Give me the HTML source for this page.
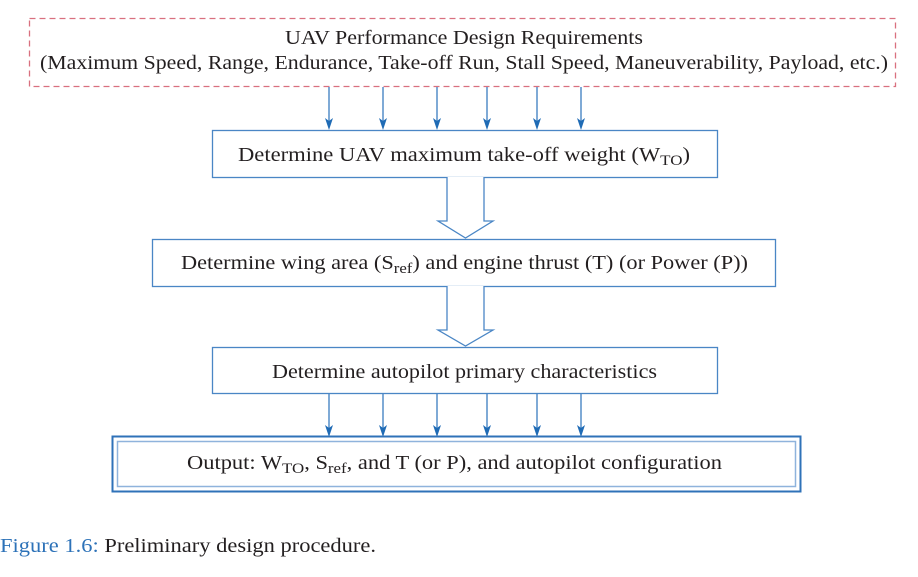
<!DOCTYPE html>
<html><head><meta charset="utf-8"><style>
html,body{margin:0;padding:0;background:#fff;}
svg{display:block;font-family:"Liberation Serif",serif;}
</style></head><body>
<svg width="918" height="577" viewBox="0 0 918 577" xmlns="http://www.w3.org/2000/svg">
<rect x="29.5" y="18.5" width="866" height="68" fill="none" stroke="#d9707f" stroke-width="1.3" stroke-dasharray="6,4"/>
<text x="285" y="44" font-size="20" fill="#231f20" textLength="358" lengthAdjust="spacingAndGlyphs">UAV Performance Design Requirements</text>
<text x="40" y="69" font-size="20" fill="#231f20" textLength="848" lengthAdjust="spacingAndGlyphs">(Maximum Speed, Range, Endurance, Take-off Run, Stall Speed, Maneuverability, Payload, etc.)</text>
<g stroke="#3a7cc0" stroke-width="1.3">
<line x1="329" y1="87" x2="329" y2="122"/><line x1="383" y1="87" x2="383" y2="122"/><line x1="437" y1="87" x2="437" y2="122"/>
<line x1="487" y1="87" x2="487" y2="122"/><line x1="537" y1="87" x2="537" y2="122"/><line x1="581" y1="87" x2="581" y2="122"/>
<line x1="329" y1="394" x2="329" y2="429"/><line x1="383" y1="394" x2="383" y2="429"/><line x1="437" y1="394" x2="437" y2="429"/>
<line x1="487" y1="394" x2="487" y2="429"/><line x1="537" y1="394" x2="537" y2="429"/><line x1="581" y1="394" x2="581" y2="429"/>
</g>
<g fill="#1f6bb5">
<path d="M325,118 L329,130 L333,118 L329,121 Z"/><path d="M379,118 L383,130 L387,118 L383,121 Z"/><path d="M433,118 L437,130 L441,118 L437,121 Z"/>
<path d="M483,118 L487,130 L491,118 L487,121 Z"/><path d="M533,118 L537,130 L541,118 L537,121 Z"/><path d="M577,118 L581,130 L585,118 L581,121 Z"/>
<path d="M325,425 L329,437 L333,425 L329,428 Z"/><path d="M379,425 L383,437 L387,425 L383,428 Z"/><path d="M433,425 L437,437 L441,425 L437,428 Z"/>
<path d="M483,425 L487,437 L491,425 L487,428 Z"/><path d="M533,425 L537,437 L541,425 L537,428 Z"/><path d="M577,425 L581,437 L585,425 L581,428 Z"/>
</g>
<rect x="212.5" y="130.5" width="505" height="47" fill="#fff" stroke="#4a86c5" stroke-width="1.3"/>
<text x="238" y="161" font-size="20" fill="#231f20" textLength="452" lengthAdjust="spacingAndGlyphs">Determine UAV maximum take-off weight (W<tspan font-size="15" dy="4">TO</tspan><tspan dy="-4">)</tspan></text>
<path d="M447,177 L447,221 L438,221 L465.5,238 L493,221 L484,221 L484,177" fill="#fff" stroke="#4a86c5" stroke-width="1.3"/>
<rect x="152.5" y="239.5" width="623" height="47" fill="#fff" stroke="#4a86c5" stroke-width="1.3"/>
<text x="181" y="269" font-size="20" fill="#231f20" textLength="567" lengthAdjust="spacingAndGlyphs">Determine wing area (S<tspan font-size="15" dy="4">ref</tspan><tspan dy="-4">) and engine thrust (T) (or Power (P))</tspan></text>
<path d="M447,286 L447,330 L438,330 L465.5,346 L493,330 L484,330 L484,286" fill="#fff" stroke="#4a86c5" stroke-width="1.3"/>
<rect x="212.5" y="347.5" width="505" height="46" fill="#fff" stroke="#4a86c5" stroke-width="1.3"/>
<text x="272" y="378" font-size="20" fill="#231f20" textLength="385" lengthAdjust="spacingAndGlyphs">Determine autopilot primary characteristics</text>
<rect x="112.5" y="436.5" width="688" height="55" fill="#fff" stroke="#2f72b8" stroke-width="2"/>
<rect x="117.5" y="441.5" width="678" height="45" fill="none" stroke="#8fb3dc" stroke-width="1.5"/>
<text x="187" y="469" font-size="20" fill="#231f20" textLength="535" lengthAdjust="spacingAndGlyphs">Output: W<tspan font-size="15" dy="4">TO</tspan><tspan dy="-4">, S</tspan><tspan font-size="15" dy="4">ref</tspan><tspan dy="-4">, and T (or P), and autopilot configuration</tspan></text>
<text x="0" y="552" font-size="20" fill="#231f20" textLength="376" lengthAdjust="spacingAndGlyphs"><tspan fill="#2d72b8">Figure 1.6:</tspan> Preliminary design procedure.</text>
</svg>
</body></html>
